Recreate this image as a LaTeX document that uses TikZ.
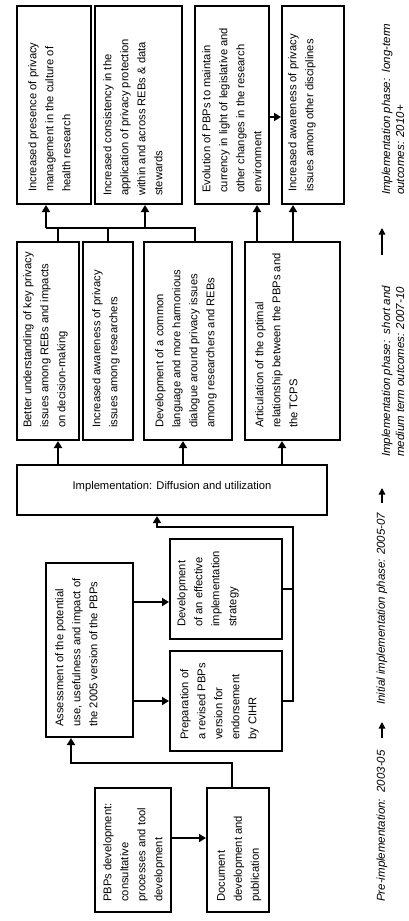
\documentclass[tikz,border=0pt]{standalone}
\usepackage{fontspec}
\setmainfont{Liberation Sans}
\usetikzlibrary{arrows.meta,fit,positioning}

\begin{document}
\begin{tikzpicture}[x=1pt,y=-1pt,
  box/.style={draw=black,line width=2pt,inner sep=0pt},
  lbl/.style={rotate=90,anchor=north west,align=left,inner sep=0pt,font=\fontsize{11.2}{17}\selectfont},
  key/.style={rotate=90,anchor=west,align=left,inner sep=0pt,font=\itshape\fontsize{11.5}{14}\selectfont},
  line/.style={black,line width=1.9pt},
  conn/.style={line,-{Triangle[width=8pt,length=7pt]}},
  keyarrow/.style={black,line width=1.4pt,-{Triangle[width=6.5pt,length=6.5pt]}}]
\useasboundingbox (0,0) rectangle (408,921);
\node [box, fit={(17,6) (91,204)}] (a1) {};
\node [box, fit={(95,6) (182,204)}] (a2) {};
\node [box, fit={(195,6) (269,204)}] (a3) {};
\node [box, fit={(282,6) (344,204)}] (a4) {};
\node [box, fit={(17,242) (79,440)}] (b1) {};
\node [box, fit={(83,242) (133,440)}] (b2) {};
\node [box, fit={(144,242) (232,440)}] (b3) {};
\node [box, fit={(245,242) (340,440)}] (b4) {};
\node [box, fit={(17,465) (327,515)}] (impl) {};
\node [box, fit={(46,563) (133,737)}] (c1) {};
\node [box, fit={(170,539) (282,639)}] (c2) {};
\node [box, fit={(170,651) (282,751)}] (c3) {};
\node [box, fit={(95,788) (171,912)}] (d1) {};
\node [box, fit={(207,788) (269,912)}] (d2) {};
\node [lbl] (a1t) at (28,192) {Increased presence of privacy\\management in the culture of\\health research};
\node [lbl] (a2t) at (103,196) {Increased consistency in the\\application of privacy protection\\within and across REBs \& data\\stewards};
\node [lbl] (a3t) at (202,193) {Evolution of PBPs to maintain\\currency in light of legislative and\\other changes in the research\\environment};
\node [lbl] (a4t) at (288,192) {Increased awareness of privacy\\issues among other disciplines};
\node [lbl] (b1t) at (23,428) {Better understanding of key privacy\\issues among REBs and impacts\\on decision-making};
\node [lbl] (b2t) at (92,428) {Increased awareness of privacy\\issues among researchers};
\node [lbl] (b3t) at (155,428) {Development of a common\\language and more harmonious\\dialogue around privacy issues\\among researchers and REBs};
\node [lbl] (b4t) at (255,428) {Articulation of the optimal\\relationship between the PBPs and\\the TCPS};
\node [font=\fontsize{11.2}{14}\selectfont] (implt) at (172,487) {Implementation: Diffusion and utilization};
\node [lbl] (c1t) at (55,727) {Assessment of the potential\\use, usefulness and impact of\\the 2005 version of the PBPs};
\node [lbl] (c2t) at (177,627) {Development\\of an effective\\implementation\\strategy};
\node [lbl] (c3t) at (180,740) {Preparation of\\a revised PBPs\\version for\\endorsement\\by CIHR};
\node [lbl] (d1t) at (103,902) {PBPs development:\\consultative\\processes and tool\\development};
\node [lbl] (d2t) at (217,902) {Document\\development and\\publication};
\coordinate (s1) at (58,228);
\coordinate (s2) at (108,228);
\coordinate (s3) at (195,228);
\coordinate (t1) at (46,228);
\coordinate (t2) at (145,228);
\draw [line] (b1.north -| s1) -- (s1);
\draw [line] (b2.north -| s2) -- (s2);
\draw [line] (b3.north -| s3) -- (s3) -- (t1);
\draw [conn] (t1) -- (a1.south -| t1);
\draw [conn] (t2) -- (a2.south -| t2);
\coordinate (u1) at (257,223);
\coordinate (u2) at (293,223);
\draw [conn] (b4.north -| u1) -- (a3.south -| u1);
\draw [conn] (b4.north -| u2) -- (a4.south -| u2);
\coordinate (v1) at (275,117);
\draw [conn] (a3.east |- v1) -- (a4.west |- v1);
\coordinate (w2) at (183,452);
\coordinate (w3) at (282,452);
\draw [conn] (impl.north -| s1) -- (b1.south -| s1);
\draw [conn] (impl.north -| w2) -- (b3.south -| w2);
\draw [conn] (impl.north -| w3) -- (b4.south -| w3);
\coordinate (k3) at (293,527);
\coordinate (k4) at (157,527);
\draw [line] (c2.east) -- (c2.east -| k3);
\draw [conn] (c3.east) -| (k3) -- (k4) -- (impl.south -| k4);
\coordinate (k2) at (150,602);
\draw [conn] (c1.east |- k2) -- (c2.west |- k2);
\draw [conn] (c1.east |- c3.west) -- (c3.west);
\coordinate (k5) at (189,838);
\draw [conn] (d1.east |- k5) -- (d2.west |- k5);
\coordinate (k6) at (232,763);
\coordinate (k7) at (71,763);
\draw [conn] (d2.north -| k6) -- (k6) -- (k7) -- (c1.south -| k7);
\node [key] (pre) at (382,902) {Pre-implementation:\ \ 2003-05};
\node [key] (init) at (382,705) {Initial implementation phase: 2005-07};
\node [key] (mid) at (393,457) {Implementation phase:\ \ short and\\medium term outcomes: 2007-10};
\node [key] (long) at (393,195) {Implementation phase:\ \ long-term\\outcomes: 2010+};
\coordinate (e1) at (382,738);
\coordinate (e2) at (382,722);
\coordinate (e3) at (382,503);
\coordinate (e4) at (382,488);
\coordinate (e5) at (382,255);
\coordinate (e6) at (382,228);
\draw [keyarrow] (e1) -- (e2);
\draw [keyarrow] (e3) -- (e4);
\draw [keyarrow] (e5) -- (e6);
\end{tikzpicture}
\end{document}
